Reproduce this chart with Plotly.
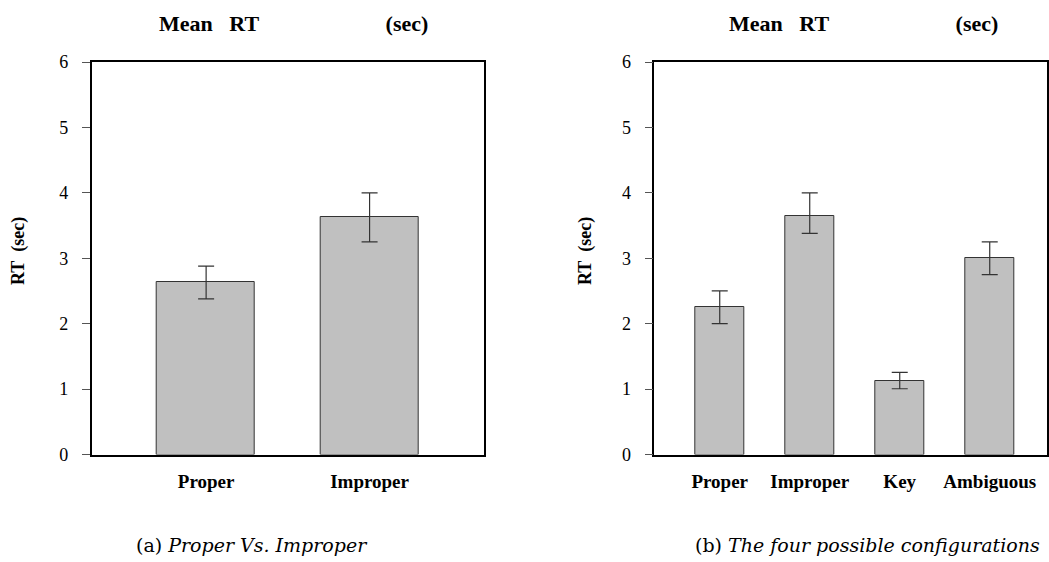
import plotly.graph_objects as go

# Data
cats_a = ["Proper", "Improper"]
vals_a = [2.63, 3.625]
err_a = [0.25, 0.375]

cats_b = ["Proper", "Improper", "Key", "Ambiguous"]
vals_b = [2.25, 3.65, 1.13, 3.0]
err_b_plus = [0.25, 0.35, 0.125, 0.25]
err_b_minus = [0.25, 0.27, 0.125, 0.25]

y_ticks = [0, 1, 2, 3, 4, 5, 6]

W, H = 1049, 562
SERIF = "Liberation Serif"

fig = go.Figure()

bar_style = dict(marker=dict(color="#c0c0c0", line=dict(color="#333333", width=1)),
                 showlegend=False, hoverinfo="skip")

fig.add_trace(go.Bar(x=cats_a, y=vals_a, width=0.6, xaxis="x", yaxis="y",
                     error_y=dict(type="data", array=err_a, color="#333333",
                                  thickness=1.2, width=8),
                     **bar_style))
fig.add_trace(go.Bar(x=cats_b, y=vals_b, width=0.55, xaxis="x2", yaxis="y2",
                     error_y=dict(type="data", symmetric=False, array=err_b_plus,
                                  arrayminus=err_b_minus, color="#333333",
                                  thickness=1.2, width=8),
                     **bar_style))

def px_x(p):
    return p / W

def px_y(p):
    return 1 - p / H

ydom = [px_y(454.5), px_y(62)]

xcommon = dict(showline=True, linecolor="black", linewidth=1.5, mirror=True,
               ticks="", showgrid=False, zeroline=False, type="category",
               automargin=False, tickangle=0, ticklabelstandoff=9,
               tickfont=dict(family=SERIF, size=19, color="black", weight="bold"))
ycommon = dict(range=[0, 6], tickvals=y_ticks, showline=True, linecolor="black",
               linewidth=1.5, mirror=True, ticks="outside", ticklen=8,
               tickcolor="#555555", tickwidth=1, showgrid=False, zeroline=False,
               automargin=False, ticklabelstandoff=10,
               tickfont=dict(family=SERIF, size=18, color="black"))

fig.update_layout(
    template="none",
    width=W, height=H, autosize=False,
    margin=dict(l=0, r=0, t=0, b=0, pad=0),
    plot_bgcolor="white", paper_bgcolor="white",
    xaxis=dict(domain=[px_x(91.7), px_x(484)], range=[-0.7, 1.7], anchor="y", **xcommon),
    yaxis=dict(domain=ydom, anchor="x", **ycommon),
    xaxis2=dict(domain=[px_x(654.3), px_x(1046.7)], range=[-0.727, 3.633], anchor="y2", **xcommon),
    yaxis2=dict(domain=ydom, anchor="x2", **ycommon),
    bargap=0,
)

title_txt = "<b>Mean&nbsp;&nbsp;&nbsp;RT" + "&nbsp;" * 23 + "(sec)</b>"
common_ann = dict(xref="paper", yref="paper", showarrow=False, xanchor="center", yanchor="middle")
anns = [
    dict(text=title_txt, x=px_x(293.5), y=px_y(24),
         font=dict(family=SERIF, size=22, color="black"), **common_ann),
    dict(text=title_txt, x=px_x(863), y=px_y(24),
         font=dict(family=SERIF, size=22, color="black"), **common_ann),
    dict(text="<b>RT&nbsp;&nbsp;(sec)</b>", x=px_x(18), y=px_y(251), textangle=-90,
         font=dict(family=SERIF, size=18, color="black"), **common_ann),
    dict(text="<b>RT&nbsp;&nbsp;(sec)</b>", x=px_x(585), y=px_y(251), textangle=-90,
         font=dict(family=SERIF, size=18, color="black"), **common_ann),
    dict(text="(a) <i>Proper Vs. Improper</i>", x=px_x(252), y=px_y(545),
         font=dict(family="DejaVu Serif", size=19, color="black"), **common_ann),
    dict(text="(b) <i>The four possible configurations</i>", x=px_x(867), y=px_y(545),
         font=dict(family="DejaVu Serif", size=19, color="black"), **common_ann),
]
fig.update_layout(annotations=anns)

fig.write_html("out.html", config={"displayModeBar": False},
               post_script="document.body.style.margin='0px';")
